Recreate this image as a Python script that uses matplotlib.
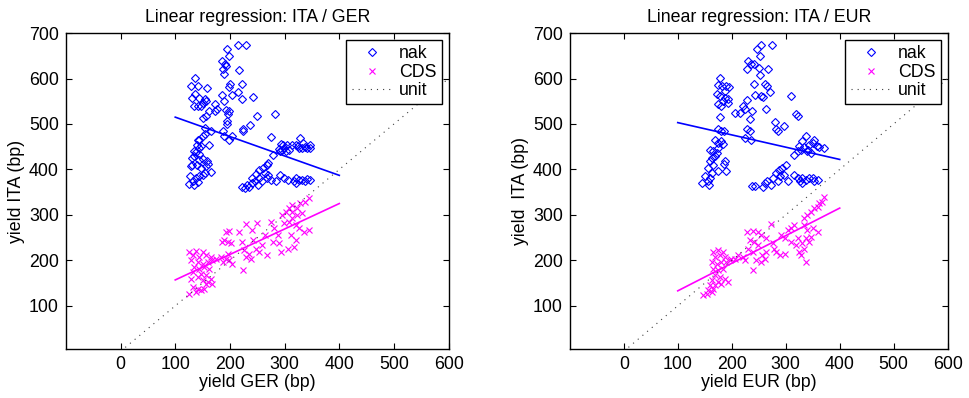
import matplotlib
matplotlib.use("Agg")
import matplotlib.pyplot as plt
from matplotlib.lines import Line2D

# ---------------- data ----------------
titles = ["Linear regression: ITA / GER", "Linear regression: ITA / EUR"]
xlabels = ["yield GER (bp)", "yield EUR (bp)"]
ylabels = ["yield ITA (bp)", "yield  ITA (bp)"]
legend_labels = ["nak", "CDS", "unit"]
xticks = [0, 100, 200, 300, 400, 500, 600]
yticks = [100, 200, 300, 400, 500, 600, 700]
unit_x = [0, 600]

# left panel: nominal (nak) yields
ger_nak = [
    (215, 673), (230, 673), (195, 664), (198, 649), (186, 638), (191, 631), (192, 627), (188, 621),
    (189, 609), (216, 618), (222, 588), (201, 587), (199, 581), (214, 571), (185, 563), (203, 563),
    (242, 560), (222, 555), (189, 551), (193, 531), (199, 528), (197, 521), (250, 517), (282, 521),
    (195, 506), (195, 499), (236, 497), (224, 489), (224, 484), (187, 485), (190, 473), (204, 473),
    (198, 464),
    (136, 601), (128, 583), (142, 583), (158, 579), (136, 565), (130, 557), (144, 557), (154, 555),
    (150, 546), (134, 540), (147, 539), (142, 539), (156, 551), (173, 543), (176, 534), (173, 529),
    (162, 528), (150, 513), (156, 517), (155, 491), (165, 484), (154, 478), (150, 473), (141, 464),
    (144, 464), (139, 454), (147, 452), (144, 447), (162, 454), (134, 441), (138, 438), (144, 434),
    (135, 429), (130, 425), (144, 421), (150, 423), (130, 409), (158, 418), (160, 413), (156, 407),
    (140, 409), (147, 403), (129, 407), (166, 394), (155, 392), (150, 388), (144, 385), (138, 381),
    (132, 375), (127, 385), (125, 368), (134, 366), (141, 372),
    (276, 471), (293, 456), (297, 453), (299, 447), (295, 443), (290, 446), (302, 440), (308, 443),
    (314, 453), (321, 454), (325, 451), (329, 469), (334, 458), (337, 449), (341, 447), (346, 447),
    (347, 453), (331, 447), (326, 447), (278, 432), (291, 440), (305, 454),
    (222, 362), (227, 359), (232, 366), (235, 361), (240, 370), (245, 374), (252, 366), (258, 374),
    (253, 381), (261, 403), (267, 410), (270, 414), (264, 392), (270, 388), (268, 382), (275, 377),
    (284, 374), (292, 388), (299, 381), (307, 377), (318, 374), (321, 381), (326, 377), (320, 370),
    (331, 377), (341, 379), (347, 377), (338, 374), (248, 390), (253, 399), (241, 381),
]
# left panel: CDS-adjusted yields
ger_cds = [
    (126, 219), (138, 221), (150, 219), (132, 212), (144, 208), (156, 212), (165, 208), (129, 201),
    (141, 197), (150, 193), (159, 197), (168, 201), (135, 186), (144, 182), (153, 186), (162, 182),
    (132, 175), (147, 171), (156, 168), (141, 164), (129, 160), (150, 157), (159, 153), (165, 160),
    (132, 142), (141, 138), (153, 138), (126, 127), (138, 131), (147, 135), (156, 149), (168, 149),
    (175, 204), (184, 208), (193, 204), (199, 201), (204, 193), (187, 197), (196, 215), (190, 245),
    (193, 263), (199, 265), (196, 241), (202, 238), (185, 241),
    (217, 263), (229, 279), (249, 282), (222, 241), (241, 267), (243, 245), (226, 223), (235, 215),
    (229, 208), (238, 203), (223, 179), (247, 226), (253, 219), (259, 234), (268, 212), (265, 256),
    (275, 285), (281, 271), (287, 256), (278, 241), (290, 238), (293, 219), (296, 300), (302, 307),
    (308, 315), (314, 322), (323, 315), (329, 326), (338, 329), (344, 337), (314, 293), (320, 278),
    (326, 271), (335, 263), (344, 267), (311, 256), (321, 245), (318, 230), (307, 226), (308, 285),
    (299, 282), (323, 300), (332, 304), (314, 307),
]
# right panel: nominal (nak) yields
eur_nak = [
    (255, 673), (247, 664), (274, 673), (252, 649), (230, 638), (236, 632), (242, 631), (229, 620),
    (250, 624), (267, 620), (253, 607), (241, 587), (262, 588), (266, 583), (270, 571), (244, 563),
    (254, 561), (257, 559), (310, 561), (228, 552), (220, 539), (224, 532), (206, 524), (215, 524),
    (237, 528), (263, 533), (233, 510), (229, 488), (233, 484), (225, 469), (235, 465), (280, 504),
    (296, 496), (285, 484), (282, 490), (319, 521), (323, 518),
    (178, 601), (175, 585), (182, 583), (190, 583), (195, 581), (187, 573), (172, 566), (178, 561),
    (187, 557), (193, 554), (184, 551), (194, 546), (174, 545), (181, 539), (178, 515), (175, 488),
    (181, 484), (186, 485), (169, 465), (180, 463), (175, 458), (184, 456), (159, 443), (165, 440),
    (172, 436), (175, 448), (169, 429), (163, 425), (159, 418), (165, 410), (156, 403), (187, 418),
    (186, 412), (190, 396), (175, 396), (164, 392), (160, 381), (156, 374), (150, 385), (144, 370),
    (158, 365),
    (337, 473), (331, 462), (325, 451), (334, 449), (344, 454), (350, 458), (353, 465), (358, 451),
    (362, 449), (371, 447), (342, 443), (322, 440), (316, 432), (347, 436), (339, 440), (328, 443),
    (238, 363), (244, 363), (258, 361), (261, 370), (266, 375), (273, 366), (276, 381), (285, 374),
    (290, 385), (296, 388), (301, 410), (294, 403), (287, 399), (282, 392), (304, 375), (316, 388),
    (322, 381), (327, 374), (331, 370), (337, 377), (344, 381), (350, 381), (353, 375), (359, 377),
    (330, 381),
]
# right panel: CDS-adjusted yields
eur_cds = [
    (166, 219), (175, 223), (184, 219), (169, 208), (178, 212), (187, 208), (163, 197), (172, 193),
    (181, 197), (190, 197), (196, 201), (166, 182), (175, 179), (184, 182), (169, 168), (178, 164),
    (187, 160), (163, 157), (160, 146), (169, 146), (181, 149), (156, 135), (166, 138), (147, 124),
    (155, 127), (163, 131), (174, 153), (193, 153), (199, 204), (206, 203), (212, 212), (221, 208),
    (224, 201),
    (229, 263), (239, 265), (248, 262), (255, 256), (233, 245), (242, 241), (230, 226), (248, 234),
    (239, 219), (245, 201), (256, 212), (261, 204), (239, 179), (273, 279), (264, 249), (276, 238),
    (282, 219), (291, 256), (298, 249), (304, 267), (310, 271), (316, 278), (290, 212), (298, 215),
    (279, 226), (264, 219), (255, 197), (310, 241), (319, 234), (325, 219), (322, 249),
    (334, 293), (340, 300), (347, 307), (353, 315), (359, 318), (368, 329), (371, 340), (362, 326),
    (334, 278), (340, 267), (350, 271), (359, 263), (347, 252), (337, 249), (331, 238), (334, 226),
    (344, 241), (328, 212), (337, 197),
]
# regression line end points (x = 100 .. 400)
fit_x = [100, 400]
ger_fit_nak = [515, 387]
ger_fit_cds = [157, 325]
eur_fit_nak = [503, 422]
eur_fit_cds = [133, 315]

panels = [
    (ger_nak, ger_cds, ger_fit_nak, ger_fit_cds),
    (eur_nak, eur_cds, eur_fit_nak, eur_fit_cds),
]

# ---------------- style ----------------
plt.rcParams['font.family'] = ['Liberation Sans', 'DejaVu Sans']
FS = 12.8
blue = '#0000ff'
mag = '#ff00ff'
MS_D = 4.3
MS_X = 4.8

fig = plt.figure(figsize=(9.69, 3.98), dpi=100)
positions = [[0.068, 0.123, 0.395, 0.794], [0.588, 0.123, 0.39, 0.794]]

for i, (nak, cds, fnak, fcds) in enumerate(panels):
    ax = fig.add_axes(positions[i])
    nx = [p[0] for p in nak]
    ny = [p[1] for p in nak]
    cx = [p[0] for p in cds]
    cy = [p[1] for p in cds]
    ax.plot(nx, ny, linestyle='none', marker='D', markersize=MS_D, mfc='none',
            mec=blue, mew=0.8)
    ax.plot(cx, cy, linestyle='none', marker='x', markersize=MS_X, color=mag, mew=0.8)
    ax.plot(unit_x, unit_x, color='0.25', linewidth=0.8, linestyle=(0, (1, 4.5)))
    ax.plot(fit_x, fnak, color=blue, linewidth=1.2)
    ax.plot(fit_x, fcds, color=mag, linewidth=1.2)

    ax.set_xlim(-100, 600)
    ax.set_ylim(5, 700)
    ax.set_xticks(xticks)
    ax.set_yticks(yticks)
    ax.tick_params(direction='in', top=True, right=True, length=4, width=0.8,
                   labelsize=FS, pad=5)
    for s in ax.spines.values():
        s.set_linewidth(1.0)
    ax.set_title(titles[i], fontsize=FS, pad=8)
    ax.set_xlabel(xlabels[i], fontsize=FS, labelpad=1)
    ax.set_ylabel(ylabels[i], fontsize=FS, labelpad=3)

    handles = [
        Line2D([], [], linestyle='none', marker='D', markersize=MS_D, mfc='none', mec=blue, mew=0.8),
        Line2D([], [], linestyle='none', marker='x', markersize=MS_X, color=mag, mew=0.8),
        Line2D([], [], color='0.25', linewidth=0.8, linestyle=(0, (1, 4.5))),
    ]
    leg = ax.legend(handles, legend_labels, loc='upper right', fontsize=FS,
                    frameon=True, fancybox=False, framealpha=1, edgecolor='black',
                    handlelength=2.25, handletextpad=0.4, borderpad=0.3,
                    labelspacing=0.07, borderaxespad=0.4)
    leg.get_frame().set_linewidth(1.0)

fig.savefig('out.png', dpi=100)
